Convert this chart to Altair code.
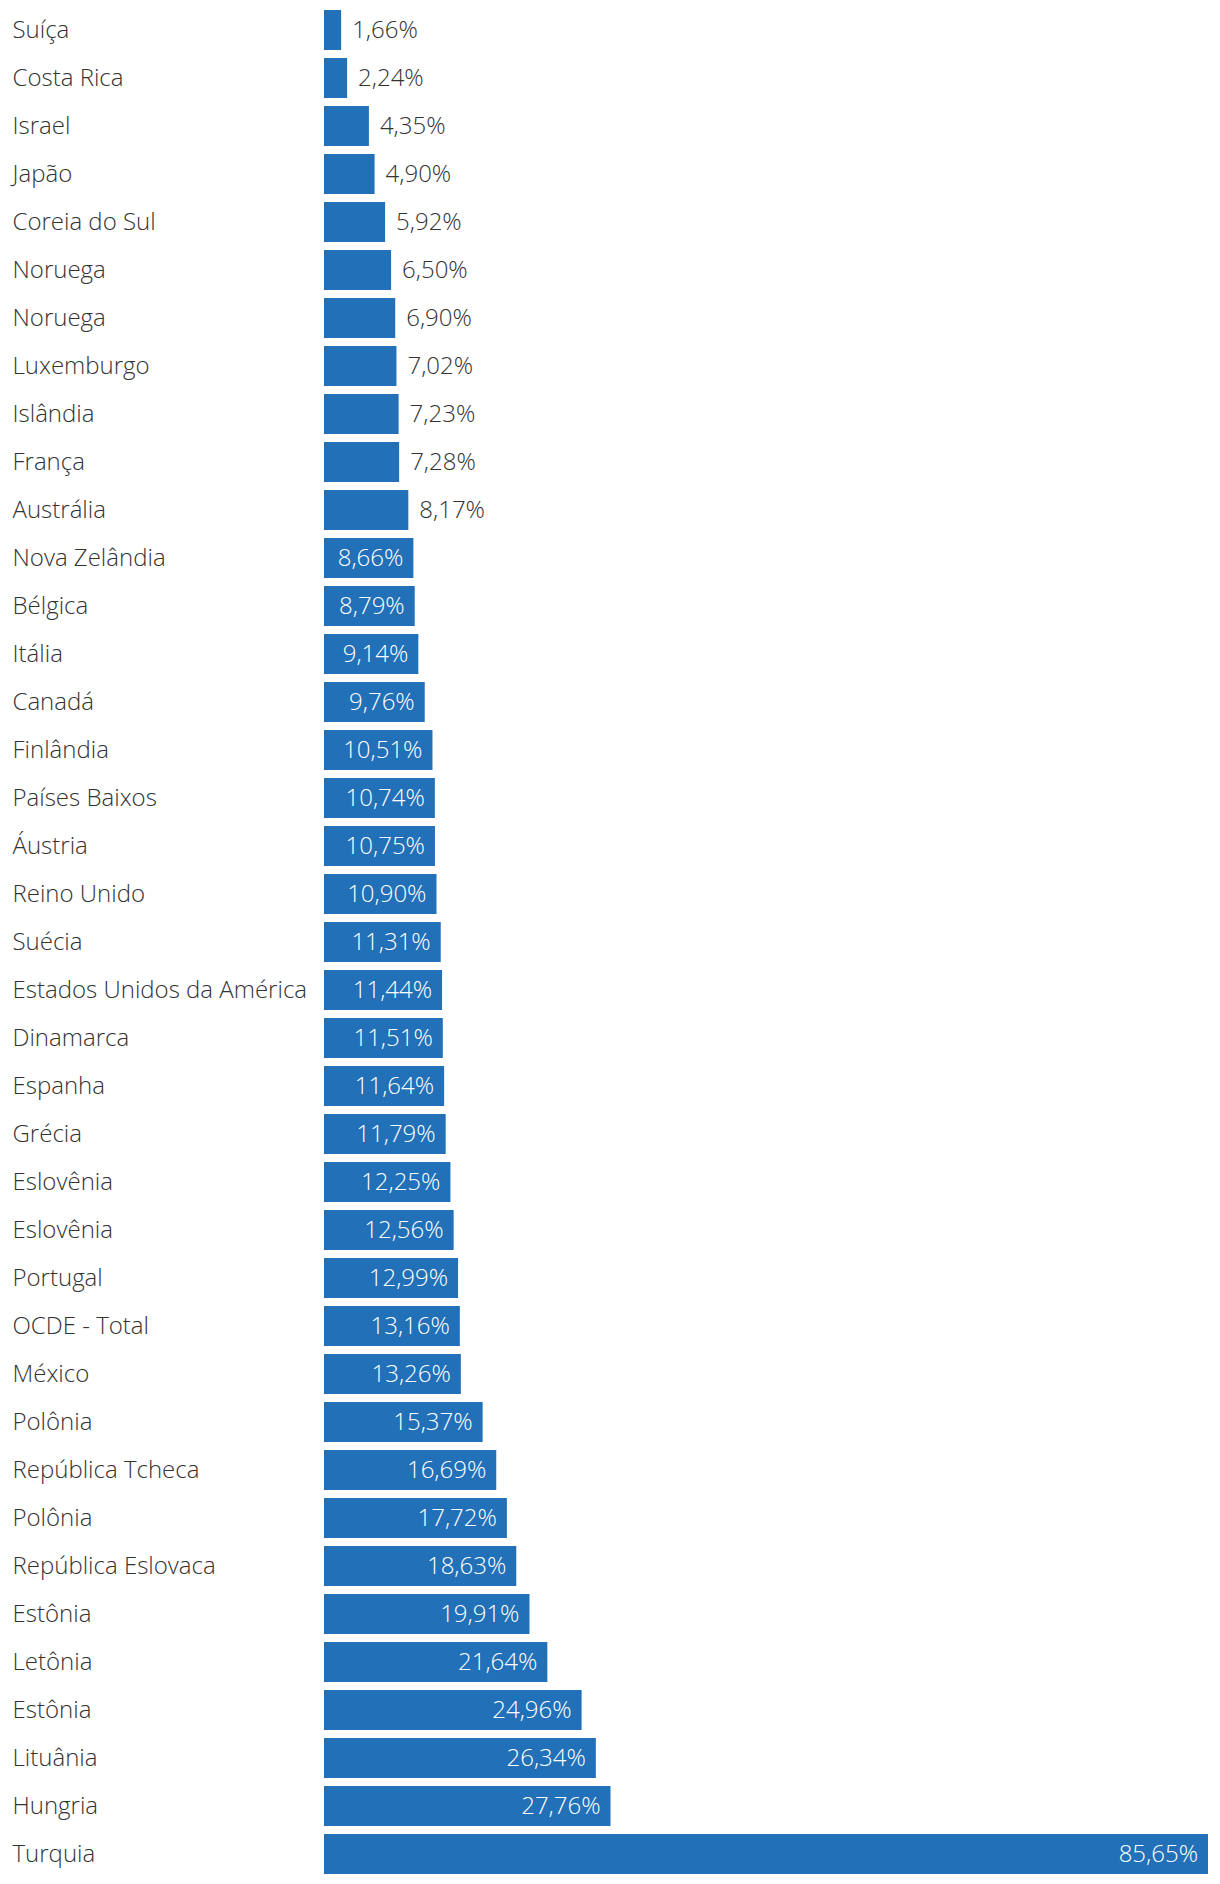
import altair as alt
import pandas as pd

countries = [
    "Suíça", "Costa Rica", "Israel", "Japão", "Coreia do Sul", "Noruega", "Noruega",
    "Luxemburgo", "Islândia", "França", "Austrália", "Nova Zelândia", "Bélgica",
    "Itália", "Canadá", "Finlândia", "Países Baixos", "Áustria", "Reino Unido",
    "Suécia", "Estados Unidos da América", "Dinamarca", "Espanha", "Grécia",
    "Eslovênia", "Eslovênia", "Portugal", "OCDE - Total", "México", "Polônia",
    "República Tcheca", "Polônia", "República Eslovaca", "Estônia", "Letônia",
    "Estônia", "Lituânia", "Hungria", "Turquia",
]
values = [
    1.66, 2.24, 4.35, 4.90, 5.92, 6.50, 6.90, 7.02, 7.23, 7.28, 8.17, 8.66, 8.79,
    9.14, 9.76, 10.51, 10.74, 10.75, 10.90, 11.31, 11.44, 11.51, 11.64, 11.79,
    12.25, 12.56, 12.99, 13.16, 13.26, 15.37, 16.69, 17.72, 18.63, 19.91, 21.64,
    24.96, 26.34, 27.76, 85.65,
]
inside_threshold = 8.5

df = pd.DataFrame({
    "key": [f"{i:02d}|{c}" for i, c in enumerate(countries)],
    "value": values,
    "label": [f"{v:.2f}".replace(".", ",") + "%" for v in values],
})

FONT = "Open Sans"
WEIGHT = 300
SIZE = 24
BLUE = "#2170b8"
GREY = "#333333"

y_enc = alt.Y(
    "key:N",
    sort=None,
    title=None,
    scale=alt.Scale(paddingInner=1 / 6, paddingOuter=1 / 24),
    axis=alt.Axis(
        labelExpr="split(datum.value, '|')[1]",
        labelAlign="left",
        labelPadding=312,
        labelLimit=400,
        labelFont=FONT,
        labelFontSize=SIZE,
        labelFontWeight=WEIGHT,
        labelColor=GREY,
        labelOffset=1,
        ticks=False,
        tickSize=0,
        domain=False,
        grid=False,
    ),
)
x_enc = alt.X(
    "value:Q",
    title=None,
    scale=alt.Scale(domain=[0, 85.65], nice=False, zero=True),
    axis=None,
)

base = alt.Chart(df).encode(y=y_enc, x=x_enc)

bars = base.mark_bar(color=BLUE)

text_out = base.transform_filter(alt.datum.value < inside_threshold).mark_text(
    align="left", baseline="middle", dx=11, dy=1, font=FONT, fontSize=SIZE,
    fontWeight=WEIGHT, color=GREY
).encode(text="label:N")

text_in = base.transform_filter(alt.datum.value >= inside_threshold).mark_text(
    align="right", baseline="middle", dx=-10, dy=1, font=FONT, fontSize=SIZE,
    fontWeight=WEIGHT, color="white"
).encode(text="label:N")

chart = (
    alt.layer(bars, text_out, text_in)
    .properties(width=884, height=1868, padding={"left": 4, "top": 0, "right": 4, "bottom": 0})
    .configure_view(stroke=None)
)

chart.save("out.html", embed_options={"renderer": "svg", "actions": False})
